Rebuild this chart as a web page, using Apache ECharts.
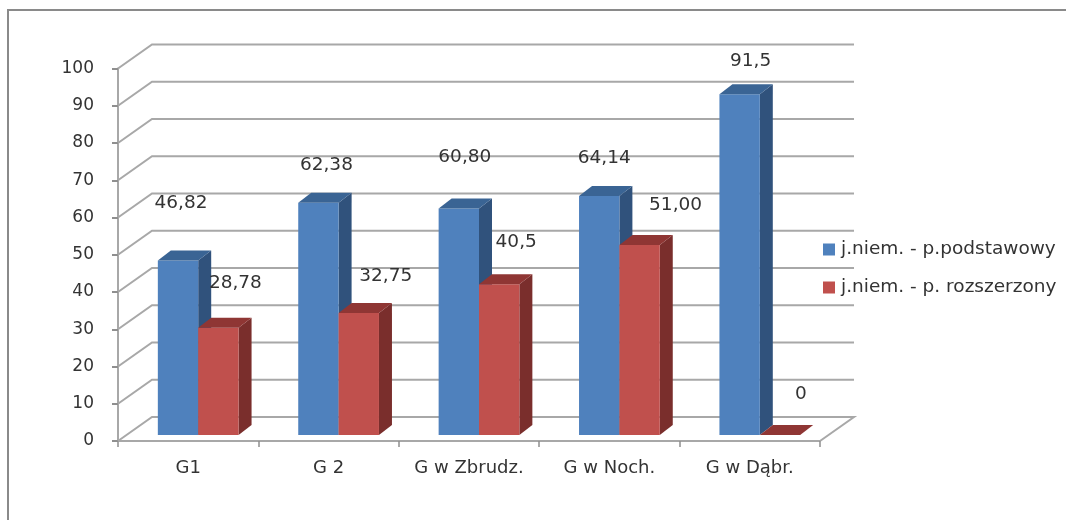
<!DOCTYPE html>
<html>
<head>
<meta charset="utf-8">
<style>
html,body{margin:0;padding:0;background:#fff;overflow:hidden}
#main{width:1066px;height:520px;filter:blur(0.5px)}
</style>
<script src="https://cdn.jsdelivr.net/npm/echarts@6/dist/echarts.min.js"></script>
</head>
<body>
<div id="main"></div>
<script>
var categories = ['G1', 'G 2', 'G w Zbrudz.', 'G w Noch.', 'G w Dąbr.'];
var seriesNames = ['j.niem. - p.podstawowy', 'j.niem. - p. rozszerzony'];
var basicValues = [46.82, 62.38, 60.80, 64.14, 91.5];
var extendedValues = [28.78, 32.75, 40.5, 51.00, 0];
var basicLabels = ['46,82', '62,38', '60,80', '64,14', '91,5'];
var extendedLabels = ['28,78', '32,75', '40,5', '51,00', '0'];
var yTicks = [0, 10, 20, 30, 40, 50, 60, 70, 80, 90, 100];

// Manual data-label nudges, in pixels from the top centre of each bar
var basicNudge = [[3, -57], [8, -37], [6, -51], [5, -38], [11, -33]];
var extendedNudge = [[17, -45], [27, -37], [17, -42], [36, -40], [21, -41]];

var FONT = '"DejaVu Sans", sans-serif';
var TEXT = '#333333';
var GRID = '#a8a8a8';
var WALL_DX = 34, WALL_DY = -24;       // depth of the chart box
var BAR_SHIFT_X = 10, BAR_SHIFT_Y = -6; // bars stand inside the floor
var BAR_DX = 13, BAR_DY = -10;          // depth of a bar
var BAR_RATIO = 0.2875;                 // bar width relative to a category

function wallItem(params, api) {
  var v = api.value(0);
  var cs = params.coordSys;
  var p = api.coord([0, v]);
  var left = cs.x, right = cs.x + cs.width, y = p[1];
  var pts = [[left, y], [left + WALL_DX, y + WALL_DY], [right + WALL_DX, y + WALL_DY]];
  if (v === 0) pts.push([right, y]);
  return {
    type: 'polyline',
    shape: { points: pts },
    style: { fill: null, stroke: GRID, lineWidth: 2 }
  };
}

function barRenderer(side, labels, nudges, front, top, sideCol) {
  return function (params, api) {
    var idx = api.value(0), val = api.value(1);
    var t = api.coord([idx, val]);
    var b = api.coord([idx, 0]);
    var w = api.size([1, 0])[0] * BAR_RATIO;
    var x0 = t[0] + BAR_SHIFT_X + (side < 0 ? -w : 0);
    var x1 = x0 + w;
    var yT = t[1] + BAR_SHIFT_Y, yB = b[1] + BAR_SHIFT_Y;
    var children = [];
    if (val > 0) {
      children.push({ type: 'polygon', shape: { points: [[x1, yT], [x1 + BAR_DX, yT + BAR_DY], [x1 + BAR_DX, yB + BAR_DY], [x1, yB]] }, style: { fill: sideCol } });
      children.push({ type: 'rect', shape: { x: x0, y: yT, width: w, height: yB - yT }, style: { fill: front } });
    }
    children.push({ type: 'polygon', shape: { points: [[x0, yT], [x0 + BAR_DX, yT + BAR_DY], [x1 + BAR_DX, yT + BAR_DY], [x1, yT]] }, style: { fill: top } });
    children.push({
      type: 'text',
      style: {
        x: (x0 + x1) / 2 + nudges[idx][0],
        y: yT + nudges[idx][1],
        text: labels[idx],
        fill: TEXT,
        font: '18.5px ' + FONT,
        align: 'center',
        verticalAlign: 'middle'
      }
    });
    return { type: 'group', children: children };
  };
}

function pairs(values) {
  return values.map(function (v, i) { return [i, v]; });
}

var chart = echarts.init(document.getElementById('main'), null, { renderer: 'canvas' });
chart.setOption({
  animation: false,
  backgroundColor: '#ffffff',
  graphic: [{
    type: 'rect',
    silent: true,
    z: -10,
    shape: { x: 8, y: 10, width: 1100, height: 560 },
    style: { fill: '#ffffff', stroke: '#8a8a8a', lineWidth: 2 }
  }],
  legend: {
    data: seriesNames,
    orient: 'vertical',
    left: 818,
    top: 235,
    itemWidth: 12,
    itemHeight: 12,
    itemGap: 19,
    icon: 'rect',
    textStyle: { fontFamily: FONT, fontSize: 18.5, color: TEXT, padding: [0, 0, 0, 1] }
  },
  grid: { left: 118, right: 246, top: 68.5, bottom: 79 },
  xAxis: {
    type: 'category',
    data: categories,
    boundaryGap: true,
    axisLine: { show: true, lineStyle: { color: GRID, width: 2 } },
    axisTick: { show: true, length: 6, interval: 0, alignWithLabel: false, lineStyle: { color: '#8f8f8f', width: 1.5 } },
    axisLabel: { margin: 18, interval: 0, hideOverlap: false, color: TEXT, fontFamily: FONT, fontSize: 18 }
  },
  yAxis: {
    type: 'value',
    min: 0,
    max: 100,
    interval: 10,
    splitLine: { show: false },
    axisLine: { show: true, lineStyle: { color: GRID, width: 2 } },
    axisTick: { show: true, length: 6, lineStyle: { color: '#8f8f8f', width: 2 } },
    axisLabel: { margin: 24, color: TEXT, fontFamily: FONT, fontSize: 17, padding: [3, 0, 0, 0] }
  },
  series: [
    { type: 'custom', name: 'wall', data: yTicks.map(function (v) { return [v]; }), encode: { y: 0 }, renderItem: wallItem, silent: true, z: 1 },
    { type: 'custom', name: seriesNames[0], data: pairs(basicValues), encode: { x: 0, y: 1 }, itemStyle: { color: '#4F81BD' },
      renderItem: barRenderer(-1, basicLabels, basicNudge, '#4F81BD', '#3A6494', '#30527C'), z: 2 },
    { type: 'custom', name: seriesNames[1], data: pairs(extendedValues), encode: { x: 0, y: 1 }, itemStyle: { color: '#C0504D' },
      renderItem: barRenderer(1, extendedLabels, extendedNudge, '#C0504D', '#8F3634', '#7A2E2C'), z: 3 }
  ]
});
</script>
</body>
</html>
